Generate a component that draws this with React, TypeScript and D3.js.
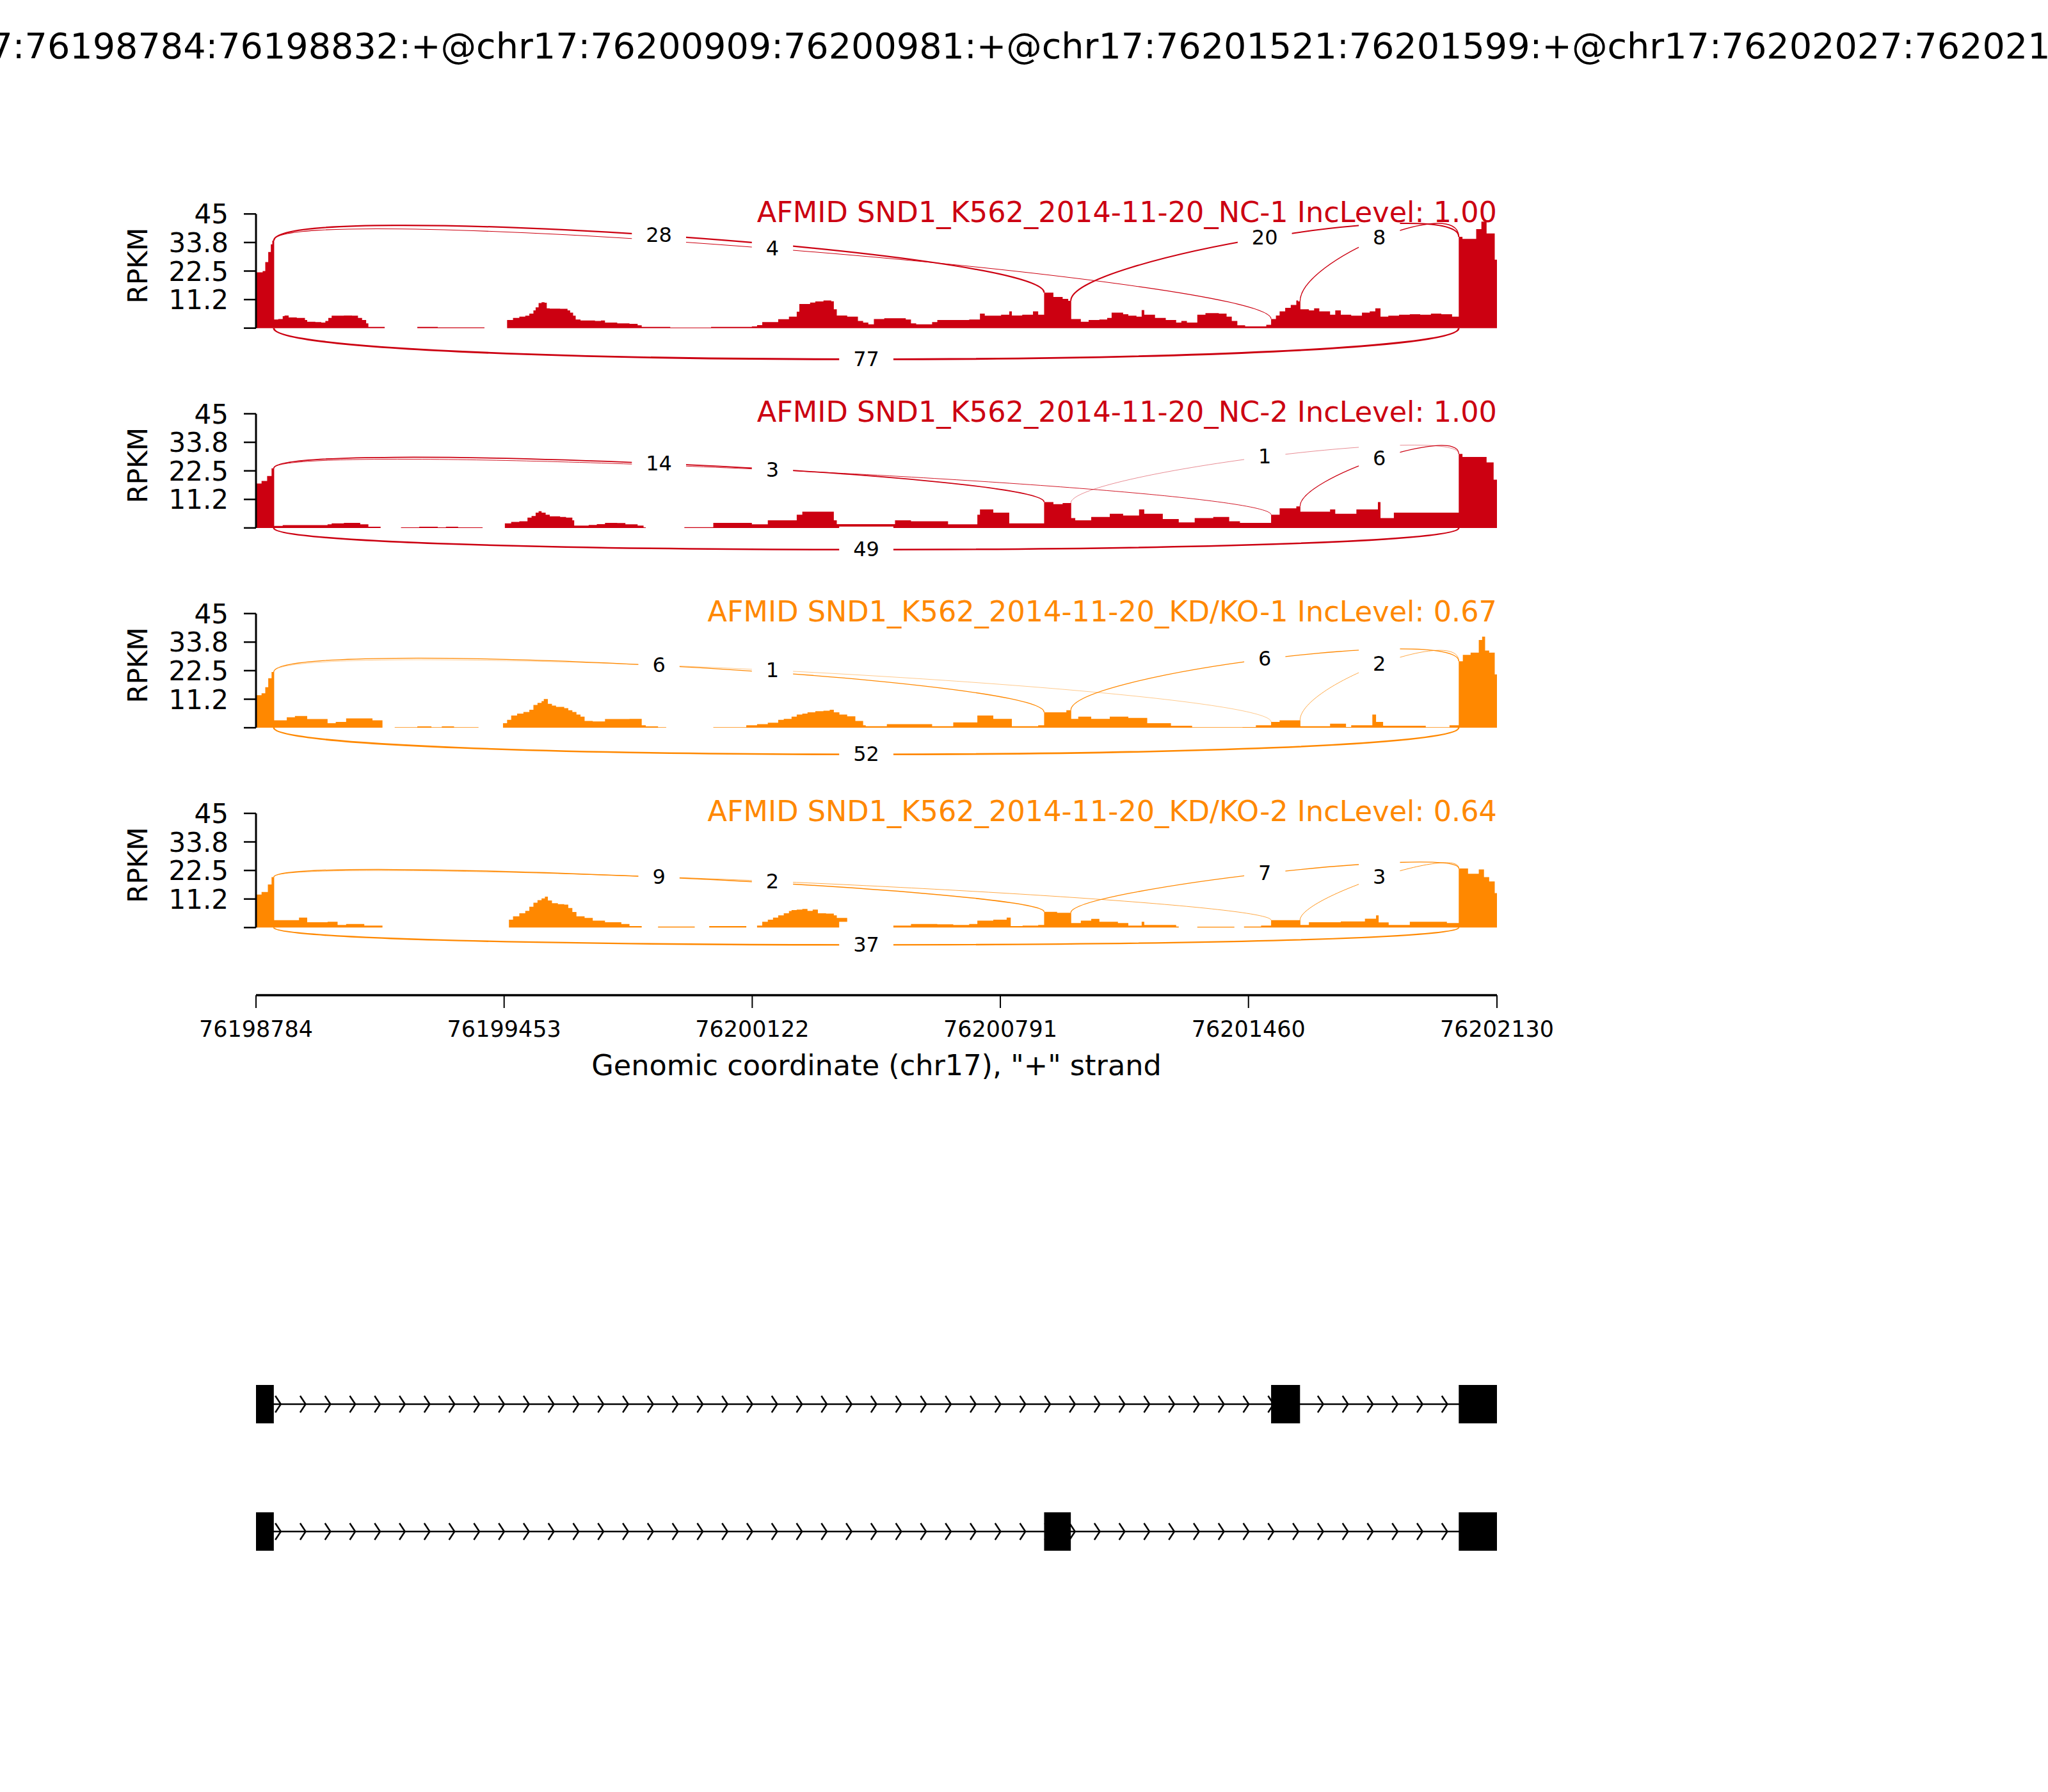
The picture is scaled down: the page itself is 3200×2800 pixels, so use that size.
import * as d3 from "d3";

// region shown (chr17, + strand)
const START = 76198784;
const END = 76202130;
const TITLE =
  "chr17:76198784:76198832:+@chr17:76200909:76200981:+@chr17:76201521:76201599:+@chr17:76202027:76202130:+";

const xTicks = [76198784, 76199453, 76200122, 76200791, 76201460, 76202130];
const yTicks = [0, 11.25, 22.5, 33.75, 45];
const yTickLabels = ["", "11.2", "22.5", "33.8", "45"];

const sampleNames = [
  "AFMID SND1_K562_2014-11-20_NC-1",
  "AFMID SND1_K562_2014-11-20_NC-2",
  "AFMID SND1_K562_2014-11-20_KD/KO-1",
  "AFMID SND1_K562_2014-11-20_KD/KO-2",
];
const incLevels = ["1.00", "1.00", "0.67", "0.64"];
const sampleColors = ["#CC0011", "#CC0011", "#FF8800", "#FF8800"];

const exons = [
  [76198784, 76198832],
  [76200909, 76200981],
  [76201521, 76201599],
  [76202027, 76202130],
];
const isoforms = [
  [0, 2, 3],
  [0, 1, 3],
];

// junction = [donor exon, acceptor exon]
const junctions = [
  [0, 1],
  [0, 2],
  [1, 3],
  [2, 3],
  [0, 3],
];
const junctionBelow = [false, false, false, false, true];
const junctionCounts = [
  [28, 4, 20, 8, 77],
  [14, 3, 1, 6, 49],
  [6, 1, 6, 2, 52],
  [9, 2, 7, 3, 37],
];

// coverage as steps: [offset from START (bp), RPKM]
const covNC1 = [
  [0, 22], [18, 22.5], [25, 26], [33, 30], [40, 33], [44, 34.5], [49, 3.4], [60, 3.6], [72, 4.7],
  [77, 5.0], [88, 4.2], [110, 4.0], [132, 3.2], [138, 2.5], [160, 2.4], [176, 2.2], [187, 2.8],
  [195, 4.0], [204, 4.9], [237, 5.0], [259, 4.9], [275, 4.0], [286, 3.2], [297, 1.9], [303, 0.5],
  [347, 0], [435, 0.5], [490, 0.3], [616, 0], [677, 3.2], [693, 4.0], [710, 4.5], [726, 4.9],
  [737, 5.7], [748, 7.0], [754, 8.2], [762, 9.9], [770, 10.2], [778, 10.0], [784, 7.8], [792, 7.7],
  [820, 7.6], [840, 7.0], [847, 6.1], [855, 4.9], [862, 3.4], [875, 3.0], [914, 2.8], [930, 3.0],
  [941, 2.2], [974, 1.9], [1007, 1.7], [1029, 1.1], [1040, 0.5], [1117, 0.25], [1227, 0.5],
  [1337, 0.7], [1351, 1.2], [1365, 2.4], [1408, 3.5], [1437, 4.5], [1458, 6.5], [1465, 9.5],
  [1494, 10.1], [1508, 10.5], [1530, 10.9], [1551, 10.6], [1558, 7.4], [1566, 5.0], [1594, 4.5],
  [1623, 2.8], [1637, 2.2], [1651, 1.5], [1666, 3.6], [1694, 3.9], [1752, 3.4], [1766, 1.9],
  [1780, 1.5], [1823, 2.4], [1837, 3.2], [1923, 3.4], [1952, 5.7], [1965, 4.9], [2009, 5.3],
  [2031, 6.6], [2038, 5.0], [2066, 5.3], [2095, 6.6], [2109, 5.3], [2125, 14.0], [2150, 12.3],
  [2175, 11.5], [2190, 10.8], [2198, 3.6], [2224, 2.5], [2245, 3.2], [2274, 3.4], [2295, 4.0],
  [2307, 6.1], [2338, 5.5], [2352, 4.9], [2374, 4.5], [2388, 7.1], [2395, 5.3], [2424, 4.0],
  [2453, 3.2], [2481, 2.2], [2495, 2.8], [2510, 2.2], [2538, 5.3], [2560, 5.9], [2596, 5.7],
  [2617, 4.5], [2631, 2.8], [2646, 1.1], [2667, 0.7], [2724, 1.3], [2737, 3.6], [2750, 5.0],
  [2760, 6.6], [2775, 8.0], [2790, 9.1], [2805, 10.9], [2810, 10.5], [2816, 7.4], [2839, 7.0],
  [2853, 7.8], [2867, 6.6], [2896, 5.3], [2910, 7.0], [2925, 5.3], [2953, 4.9], [2982, 6.1],
  [3003, 6.6], [3018, 7.8], [3032, 4.5], [3053, 4.9], [3082, 5.3], [3111, 5.5], [3139, 5.3],
  [3168, 5.7], [3196, 5.5], [3225, 4.5], [3243, 36.0], [3253, 35.2], [3290, 39.0], [3304, 42.0],
  [3318, 37.3], [3340, 27.0], [3346, 27.0],
];
const covNC2 = [
  [0, 17.5], [15, 18.5], [30, 20.5], [42, 23.5], [49, 0.8], [72, 1.1], [193, 1.4], [204, 1.8],
  [237, 2.0], [281, 1.4], [303, 0.5], [336, 0], [391, 0.2], [440, 0.5], [490, 0.2], [512, 0.5],
  [545, 0.2], [611, 0], [671, 1.8], [688, 2.4], [710, 2.6], [732, 4.1], [743, 4.7], [754, 6.0],
  [762, 6.6], [770, 6.0], [781, 5.2], [792, 4.6], [820, 4.3], [836, 4.1], [853, 3.0], [858, 0.9],
  [897, 1.2], [919, 1.5], [941, 2.0], [974, 1.9], [996, 1.4], [1029, 0.9], [1045, 0.2], [1051, 0],
  [1155, 0.3], [1233, 2.0], [1337, 1.4], [1380, 3.0], [1458, 5.2], [1473, 6.4], [1558, 3.0],
  [1566, 1.5], [1723, 3.0], [1766, 2.6], [1866, 1.4], [1945, 5.2], [1952, 7.3], [1988, 6.0],
  [2031, 1.8], [2125, 10.2], [2150, 9.4], [2175, 9.8], [2198, 3.9], [2209, 3.0], [2252, 4.3],
  [2302, 5.6], [2338, 4.9], [2381, 7.3], [2395, 5.6], [2445, 3.5], [2488, 2.2], [2531, 3.9],
  [2581, 4.3], [2624, 2.6], [2653, 2.0], [2737, 5.2], [2760, 7.7], [2805, 8.5], [2816, 6.4],
  [2896, 7.3], [2910, 5.6], [2967, 7.3], [3025, 10.2], [3032, 3.9], [3068, 6.0], [3243, 29.2],
  [3253, 28.0], [3318, 25.8], [3337, 19.0], [3346, 19.0],
];
const covKD1 = [
  [0, 12.8], [15, 13.6], [25, 16], [33, 19.5], [42, 22], [49, 2.9], [83, 4.1], [105, 4.6],
  [138, 3.4], [193, 1.8], [215, 2.3], [243, 3.7], [314, 2.9], [341, 0], [374, 0.2], [435, 0.5],
  [473, 0.2], [501, 0.5], [534, 0.2], [600, 0], [666, 1.8], [677, 3.1], [688, 4.8], [704, 5.6],
  [721, 6.2], [737, 7.1], [748, 9.0], [759, 9.8], [770, 10.5], [776, 11.3], [787, 9.4], [798, 8.7],
  [809, 8.2], [831, 7.7], [842, 6.9], [853, 6.2], [864, 5.2], [875, 4.4], [886, 2.7], [908, 2.5],
  [941, 3.4], [1007, 3.5], [1040, 1.0], [1051, 0.5], [1084, 0.2], [1106, 0], [1233, 0.2],
  [1322, 1.0], [1351, 1.4], [1380, 2.0], [1408, 3.1], [1423, 3.5], [1444, 4.4], [1458, 5.2],
  [1473, 5.6], [1487, 6.1], [1508, 6.5], [1530, 6.7], [1547, 7.1], [1558, 6.1], [1573, 5.2],
  [1594, 4.5], [1616, 2.7], [1637, 1.0], [1644, 0.6], [1701, 1.4], [1823, 0.6], [1880, 2.1],
  [1945, 4.8], [1988, 3.5], [2038, 0.6], [2109, 1.0], [2125, 6.1], [2185, 6.9], [2198, 3.5],
  [2217, 4.4], [2252, 3.5], [2302, 4.4], [2352, 3.9], [2403, 1.8], [2467, 0.8], [2524, 0.2],
  [2660, 0.3], [2696, 1.0], [2737, 2.3], [2760, 2.9], [2816, 0.6], [2896, 1.6], [2939, 0.3],
  [2953, 1.0], [3010, 5.2], [3020, 2.3], [3039, 0.8], [3154, 0.2], [3218, 1.0], [3243, 26.2],
  [3254, 28.7], [3275, 29.6], [3297, 34.6], [3306, 35.9], [3314, 30.4], [3325, 29.6], [3340, 21.0],
  [3346, 21.0],
];
const covKD2 = [
  [0, 13], [15, 14], [32, 17], [42, 19.9], [49, 2.9], [116, 3.9], [138, 2.1], [193, 2.3],
  [220, 1.0], [243, 1.4], [292, 0.8], [341, 0], [682, 3.1], [693, 4.4], [710, 5.6], [726, 6.6],
  [737, 8.2], [748, 9.8], [759, 10.8], [770, 11.5], [779, 12.2], [787, 10.7], [798, 9.6], [814, 9.2],
  [831, 9.0], [842, 7.7], [853, 6.1], [864, 4.4], [886, 3.8], [908, 2.7], [941, 2.1], [985, 1.4],
  [1007, 0.6], [1040, 0], [1084, 0.4], [1183, 0], [1222, 0.6], [1322, 0], [1351, 0.8], [1365, 2.3],
  [1380, 3.1], [1394, 3.9], [1408, 4.8], [1423, 5.6], [1437, 6.5], [1444, 6.9], [1458, 7.1],
  [1473, 7.3], [1487, 6.6], [1501, 7.1], [1515, 5.6], [1537, 5.5], [1558, 4.8], [1566, 3.8],
  [1594, 1.9], [1716, 0.8], [1766, 1.4], [1837, 1.3], [1880, 1.0], [1923, 1.4], [1945, 2.7],
  [1988, 3.1], [2024, 3.9], [2035, 0.6], [2067, 0.8], [2109, 1.0], [2125, 6.2], [2160, 5.8],
  [2198, 1.8], [2224, 2.7], [2252, 3.4], [2274, 2.3], [2324, 1.8], [2352, 0.8], [2388, 2.3],
  [2395, 1.0], [2481, 0.4], [2488, 0], [2538, 0.3], [2638, 0], [2664, 0.4], [2710, 0.8],
  [2737, 2.9], [2816, 1.0], [2839, 2.1], [2925, 2.4], [2990, 3.5], [3020, 4.8], [3027, 2.0],
  [3054, 1.0], [3111, 2.3], [3211, 1.8], [3243, 23.3], [3268, 21.2], [3297, 22.9], [3311, 19.9],
  [3325, 18.2], [3340, 13.6], [3346, 13.6],
];
const coverages = [covNC1, covNC2, covKD1, covKD2];

// layout
const W = 3200;
const H = 2800;
const LEFT = 400;
const RIGHT = 2339;
const PANEL_TOP = 334.3;
const PANEL_STEP = 312.2;
const PANEL_H = 178.4;
const XAXIS_Y = 1555;
const TRACK_Y = [2194, 2393];
const EXON_H = 60;
const FONT = "DejaVu Sans";

const covAt = (cov: number[][], off: number) => {
  let v = 0;
  for (const d of cov) {
    if (d[0] <= off) v = d[1];
    else break;
  }
  return v;
};

export default function App() {
  const x = d3.scaleLinear().domain([START, END]).range([LEFT, RIGHT]);
  const span = END - START;
  const chevrons = d3.range(1, 50).map((k) => START + (k * span) / 50);

  return (
    <>
      <style>{"body{margin:0}"}</style>
      <svg width={W} height={H} style={{ display: "block", background: "#fff" }} fontFamily={FONT}>
        <text x={W / 2} y={91} fontSize={55.6} textAnchor="middle">
          {TITLE}
        </text>

        {coverages.map((cov, i) => {
          const top = PANEL_TOP + i * PANEL_STEP;
          const y = d3.scaleLinear().domain([0, 45]).range([top + PANEL_H, top]);
          const color = sampleColors[i];
          const area = d3
            .area<number[]>()
            .x((d) => x(START + d[0]))
            .y0(y(0))
            .y1((d) => y(d[1]))
            .curve(d3.curveStepAfter);
          // arc height from this sample's max coverage
          const h = 0.39 * (d3.max(cov, (d) => d[1]) as number);

          const arcs = junctions.map(([a, b], j) => {
            const lp = exons[a][1];
            const rp = exons[b][0];
            const x1 = x(lp);
            const x2 = x(rp);
            let v: number[];
            if (junctionBelow[j]) v = [0, -h, -h, 0];
            else {
              const l = covAt(cov, lp - START);
              const r = covAt(cov, rp - START);
              v = [l, l + h, r + h, r];
            }
            const p = d3.path();
            p.moveTo(x1, y(v[0]));
            p.bezierCurveTo(x1, y(v[1]), x2, y(v[2]), x2, y(v[3]));
            const mid = 0.125 * v[0] + 0.375 * v[1] + 0.375 * v[2] + 0.125 * v[3];
            const c = junctionCounts[i][j];
            return { d: p.toString(), mx: (x1 + x2) / 2, my: y(mid) + 2, c };
          });

          return (
            <g key={i}>
              <path d={area(cov) as string} fill={color} stroke="none" />
              {arcs.map((a, j) => (
                <path
                  key={j}
                  d={a.d}
                  fill="none"
                  stroke={color}
                  strokeWidth={1.5 * Math.log10(a.c + 1)}
                />
              ))}
              {arcs.map((a, j) => {
                const fs = 32;
                const tw = String(a.c).length * 0.636 * fs;
                const pad = 22;
                return (
                  <g key={"l" + j}>
                    <rect
                      x={a.mx - tw / 2 - pad}
                      y={a.my - 0.5 * fs - pad}
                      width={tw + 2 * pad}
                      height={fs + 2 * pad}
                      fill="#fff"
                    />
                    <text x={a.mx} y={a.my + 0.265 * fs} fontSize={fs} textAnchor="middle">
                      {a.c}
                    </text>
                  </g>
                );
              })}
              <text x={RIGHT} y={top + 12.5} fontSize={44.6} textAnchor="end" fill={color}>
                {sampleNames[i] + " IncLevel: " + incLevels[i]}
              </text>
              <line x1={LEFT} x2={LEFT} y1={y(0)} y2={y(45)} stroke="#000" strokeWidth={3} />
              {yTicks.map((t, k) => (
                <g key={k}>
                  <line x1={LEFT - 19} x2={LEFT} y1={y(t)} y2={y(t)} stroke="#000" strokeWidth={2.5} />
                  <text x={LEFT - 43} y={y(t) + 15} fontSize={42} textAnchor="end">
                    {yTickLabels[k]}
                  </text>
                </g>
              ))}
              <text
                transform={`translate(230,${top + PANEL_H / 2 - 8.5}) rotate(-90)`}
                fontSize={42}
                textAnchor="middle"
              >
                RPKM
              </text>
            </g>
          );
        })}

        <line x1={LEFT} x2={RIGHT} y1={XAXIS_Y} y2={XAXIS_Y} stroke="#000" strokeWidth={3.5} />
        {xTicks.map((t) => (
          <g key={t}>
            <line x1={x(t)} x2={x(t)} y1={XAXIS_Y} y2={XAXIS_Y + 20} stroke="#000" strokeWidth={2} />
            <text x={x(t)} y={1620} fontSize={35} textAnchor="middle">
              {t}
            </text>
          </g>
        ))}
        <text x={(LEFT + RIGHT) / 2} y={1680} fontSize={44.6} textAnchor="middle">
          Genomic coordinate (chr17), "+" strand
        </text>

        {isoforms.map((iso, i) => {
          const cy = TRACK_Y[i];
          return (
            <g key={i}>
              <line x1={x(START)} x2={x(END)} y1={cy} y2={cy} stroke="#000" strokeWidth={2.5} />
              {chevrons.map((c) => (
                <path
                  key={c}
                  d={`M${x(c) - 8.6},${cy - 13}L${x(c)},${cy}L${x(c) - 8.6},${cy + 13}`}
                  fill="none"
                  stroke="#000"
                  strokeWidth={2.5}
                />
              ))}
              {iso.map((e) => (
                <rect
                  key={e}
                  x={x(exons[e][0])}
                  y={cy - EXON_H / 2}
                  width={x(exons[e][1]) - x(exons[e][0])}
                  height={EXON_H}
                  fill="#000"
                />
              ))}
            </g>
          );
        })}
      </svg>
    </>
  );
}
